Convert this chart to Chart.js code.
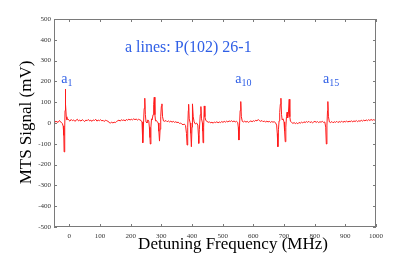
<!DOCTYPE html>
<html>
<head>
<meta charset="utf-8">
<script src="https://cdn.jsdelivr.net/npm/chart.js@4.4.1/dist/chart.umd.min.js"></script>
<style>
  html, body { margin: 0; padding: 0; background: #ffffff; }
  canvas { display: block; }
</style>
</head>
<body>
<canvas id="c" width="415" height="255"></canvas>
<script>
// ---- data ----
const freqMHz = [
  -50,-47,-44,-41,-38,-35,-32,-29,-26,-23,-20,-18,-17,-15,-14,-13,-12,-10,-8,-5,
  -2,2,6,10,14,18,22,26,30,34,38,42,46,50,54,58,62,66,70,74,78,82,86,90,94,98,102,106,110,114,118,122,126,
  130,134,138,142,146,150,154,158,162,166,170,174,178,182,186,190,194,198,202,206,210,214,218,222,226,230,234,
  237,239,240,242,244,246,248,250,253,256,259,261,263,264,266,268,270,273,275,277,279,281,284,287,290,292,294,296,298,300,302,304,
  307,311,315,319,323,327,331,335,339,343,347,351,355,359,363,367,371,375,379,
  382,384,386,388,389,391,394,396,398,400,401,402,404,407,411,415,419,421,422,424,427,429,431,434,435,436,438,440,442,
  445,449,453,457,461,465,469,473,477,481,485,489,493,497,501,505,509,513,517,521,525,529,533,537,541,545,549,
  551,553,555,557,559,561,
  564,568,572,576,580,584,588,592,596,600,604,608,612,616,620,624,628,632,636,640,644,648,652,656,660,664,668,672,
  676,678,680,682,684,686,688,690,692,694,697,700,702,704,706,708,710,712,714,717,719,
  721,725,729,733,737,741,745,749,753,757,761,765,769,773,777,781,785,789,793,797,801,805,809,813,817,821,825,829,833,
  836,838,840,842,843,845,
  848,852,856,860,864,868,872,876,880,884,888,892,896,900,904,908,912,916,920,924,928,932,936,940,944,948,952,956,960,964,968,972,976,980,984,988,992,996,1000
];
const signalMV = [
  6,10,4,9,2,8,12,5,3,-2,-15,-60,-139,-20,60,163,90,30,16,20,
  14,9,17,11,15,8,13,18,10,14,9,16,12,7,14,11,17,10,13,8,15,12,18,9,14,11,16,10,13,7,14,11,8,
  3,-1,5,0,4,2,7,11,14,9,16,12,15,10,17,13,19,14,18,15,20,16,19,14,18,15,12,
  5,-30,-95,0,70,119,40,5,0,15,10,-20,-70,-101,-20,20,15,40,90,124,40,10,12,5,0,-40,-87,-30,30,80,92,30,
  10,8,12,6,10,5,9,4,8,3,6,2,4,-2,0,-6,-8,-5,-12,
  -50,-106,-20,60,90,20,0,-50,-114,-20,50,92,30,5,-5,0,-10,-60,-98,-30,40,79,20,0,-40,-95,-20,82,30,
  12,8,3,6,0,4,-1,5,2,6,1,5,2,7,3,8,4,9,5,10,7,11,6,10,5,8,3,
  -20,-82,-10,60,103,30,
  8,5,9,4,8,3,7,10,6,11,8,13,10,17,11,8,12,6,10,4,9,5,8,3,7,4,6,2,
  -10,-50,-114,-30,10,50,90,119,40,15,20,5,-40,-90,-20,30,52,25,40,114,30,
  8,3,-2,2,-3,1,-4,3,-1,4,0,6,2,7,3,8,2,6,1,5,8,3,7,2,6,4,8,3,5,
  -20,-101,-10,60,103,30,
  5,2,7,1,6,3,8,2,7,4,9,3,8,5,10,4,9,6,11,5,10,7,12,6,11,8,13,9,14,10,15,11,16,12,17,13,16,14,17
];
const xTickValues = [0,100,200,300,400,500,600,700,800,900,1000];
const yTickValues = [-500,-400,-300,-200,-100,0,100,200,300,400,500];
const xTitle = 'Detuning Frequency (MHz)';
const yTitle = 'MTS Signal (mV)';
const headline = 'a lines: P(102) 26-1';
const lineLabels = [
  { base: 'a', sub: '1',  freq: -26 },
  { base: 'a', sub: '10', freq: 541 },
  { base: 'a', sub: '15', freq: 827 }
];

const points = freqMHz.map((f, i) => ({ x: f, y: signalMV[i] }));
const SERIF = "'Liberation Serif', 'Times New Roman', serif";
const BLUE = '#2f5fe6';

const decorPlugin = {
  id: 'decor',
  afterDraw(chart) {
    const { ctx, chartArea: a, scales: { x, y } } = chart;
    ctx.save();
    // frame
    ctx.strokeStyle = '#7a7a7a';
    ctx.lineWidth = 1;
    ctx.strokeRect(Math.round(a.left) + 0.5, Math.round(a.top) + 0.5,
                   Math.round(a.right - a.left) - 1, Math.round(a.bottom - a.top) - 1);
    // inward ticks on all four sides
    const tl = 3;
    ctx.beginPath();
    xTickValues.forEach(v => {
      const px = Math.round(x.getPixelForValue(v)) + 0.5;
      ctx.moveTo(px, a.bottom); ctx.lineTo(px, a.bottom - tl);
      ctx.moveTo(px, a.top); ctx.lineTo(px, a.top + tl);
    });
    yTickValues.forEach(v => {
      const py = Math.round(y.getPixelForValue(v)) + 0.5;
      ctx.moveTo(a.left, py); ctx.lineTo(a.left + tl, py);
      ctx.moveTo(a.right, py); ctx.lineTo(a.right - tl, py);
    });
    ctx.stroke();

    // axis titles
    ctx.fillStyle = '#000';
    ctx.font = '17px ' + SERIF;
    ctx.textAlign = 'center';
    ctx.textBaseline = 'alphabetic';
    ctx.fillText(xTitle, 233, 249);
    ctx.save();
    ctx.translate(31, 122.5);
    ctx.rotate(-Math.PI / 2);
    ctx.fillText(yTitle, 0, 0);
    ctx.restore();

    // annotations
    ctx.fillStyle = BLUE;
    ctx.textAlign = 'left';
    ctx.font = '16px ' + SERIF;
    ctx.fillText(headline, 125, 52);
    lineLabels.forEach(l => {
      const px = x.getPixelForValue(l.freq);
      ctx.font = '14px ' + SERIF;
      ctx.fillText(l.base, px, 83);
      const w = ctx.measureText(l.base).width;
      ctx.font = '10px ' + SERIF;
      ctx.fillText(l.sub, px + w, 86);
    });
    ctx.restore();
  }
};

new Chart(document.getElementById('c'), {
  type: 'line',
  data: {
    datasets: [{
      data: points,
      borderColor: '#ff1a1a',
      borderWidth: 1,
      pointRadius: 0,
      tension: 0,
      fill: false
    }]
  },
  options: {
    responsive: false,
    animation: false,
    devicePixelRatio: 1,
    layout: { padding: { top: 19, right: 39, left: 0, bottom: 0 } },
    plugins: { legend: { display: false }, tooltip: { enabled: false } },
    scales: {
      x: {
        type: 'linear',
        min: -50, max: 1000,
        afterFit: s => { s.height = 28; },
        afterBuildTicks: s => { s.ticks = xTickValues.map(v => ({ value: v })); },
        grid: { display: false, drawTicks: false },
        border: { display: false },
        ticks: {
          autoSkip: false, maxRotation: 0, padding: 5,
          color: '#333', font: { family: SERIF, size: 7 },
          callback: v => String(v)
        }
      },
      y: {
        type: 'linear',
        min: -500, max: 500,
        afterFit: s => { s.width = 54; },
        afterBuildTicks: s => { s.ticks = yTickValues.map(v => ({ value: v })); },
        grid: { display: false, drawTicks: false },
        border: { display: false },
        ticks: {
          autoSkip: false, padding: 3,
          color: '#333', font: { family: SERIF, size: 7 },
          callback: v => String(v)
        }
      }
    }
  },
  plugins: [decorPlugin]
});
</script>
</body>
</html>
